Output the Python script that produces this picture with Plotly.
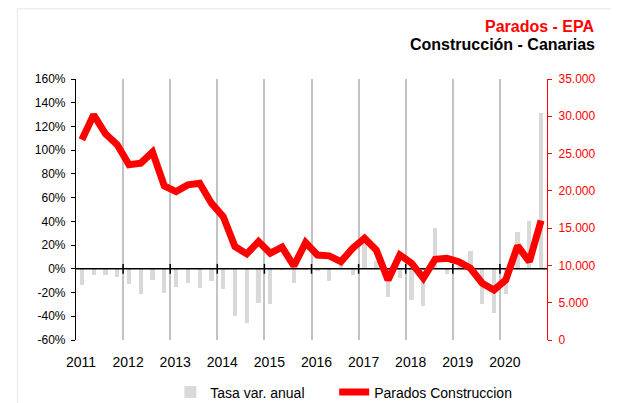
import plotly.graph_objects as go

# ---- data ----
year_labels = ["2011", "2012", "2013", "2014", "2015", "2016", "2017", "2018", "2019", "2020"]
quarters = [1, 2, 3, 4]
periods = [(int(y), q) for y in year_labels for q in quarters]

pct_tick_vals = [-60, -40, -20, 0, 20, 40, 60, 80, 100, 120, 140, 160]
pct_tick_labels = ["-60%", "-40%", "-20%", "0%", "20%", "40%", "60%", "80%",
                   "100%", "120%", "140%", "160%"]
num_tick_vals = [0, 5000, 10000, 15000, 20000, 25000, 30000, 35000]

tasa_var_anual = [-14, -5.4, -4.8, -7,
                  -12.6, -21, -9, -20.8,
                  -15.4, -11.8, -16, -10.4,
                  -16.6, -40, -45.5, -28.7,
                  -29.5, -1, -11.8, -1,
                  -2, -10.4, 5, -5.4,
                  21, 6.5, -23.6, -7.6,
                  -25.9, -31, 34.5, -4.2,
                  2, 15.4, -29.5, -37,
                  -21, 31, 40.7, 131]

parados_construccion = [26850, 30200, 27650, 26180,
                        23500, 23720, 25200, 20670,
                        19910, 20800, 21030, 18350,
                        16550, 12530, 11550, 13200,
                        11640, 12450, 9930, 13060,
                        11400, 11280, 10510, 12310,
                        13650, 12080, 8050, 11410,
                        10300, 8280, 10830, 10970,
                        10510, 9620, 7610, 6710,
                        8050, 12620, 10510, 16020]

# quarter centre on a continuous year scale
xq = [y + (q - 0.5) / 4 for (y, q) in periods]
year_vals = [int(y) for y in year_labels]
x_range = [2011, 2021]

FONT = "Arial, 'Liberation Sans', sans-serif"

# the page body adds an 8px offset; geometry below is in figure pixels
OFF = 8
W, H = 611, 395
L, R, T, B = 67.6, 72, 71.3, 62.5
pw, ph = W - L - R, H - T - B

def px_x(p):  # p = screenshot pixel
    return (p - OFF - L) / pw

def px_y(p):
    return (H - B - (p - OFF)) / ph

fig = go.Figure()
fig.add_trace(go.Bar(
    x=xq, y=tasa_var_anual, name="Tasa var. anual",
    marker=dict(color="#d9d9d9", line=dict(width=0)),
    width=0.09, yaxis="y", xaxis="x", legend="legend",
))
# 0% axis line, drawn above the bars
fig.add_trace(go.Scatter(
    x=x_range, y=[0, 0], mode="lines",
    line=dict(color="black", width=1.5),
    showlegend=False, hoverinfo="skip", yaxis="y", xaxis="x",
))
# year tick marks crossing the 0% line
fig.add_trace(go.Scatter(
    x=year_vals[1:], y=[0] * (len(year_vals) - 1), mode="markers",
    marker=dict(symbol="line-ns", size=7, line=dict(color="black", width=1.5)),
    showlegend=False, hoverinfo="skip", yaxis="y", xaxis="x",
))
fig.add_trace(go.Scatter(
    x=xq, y=parados_construccion, name="Parados Construccion",
    mode="lines", line=dict(color="#ff0000", width=7),
    yaxis="y2", xaxis="x", legend="legend2",
))

legend_common = dict(
    orientation="h", xanchor="left", yanchor="top",
    y=(H - B - 369) / ph,
    font=dict(size=14, color="black", family=FONT),
    bgcolor="rgba(0,0,0,0)",
)

fig.update_layout(
    width=W, height=H,
    margin=dict(l=L, r=R, t=T, b=B, autoexpand=False),
    paper_bgcolor="white", plot_bgcolor="white",
    separators=",.",
    font=dict(family=FONT, color="black"),
    bargap=0,
    xaxis=dict(
        range=x_range, tickvals=year_vals, ticktext=year_labels,
        showgrid=True, gridcolor="#c3c3c3", gridwidth=1.5,
        ticks="", showline=False, zeroline=False,
        tickfont=dict(size=14, color="black", family=FONT),
        ticklabelshift=5, ticklabelstandoff=12,
    ),
    yaxis=dict(
        range=[-60, 160], tickvals=pct_tick_vals, ticktext=pct_tick_labels,
        showline=True, linecolor="black", linewidth=1.2,
        ticks="outside", ticklen=4, tickcolor="black", tickwidth=1.2,
        showgrid=False, zeroline=False,
        tickfont=dict(size=12, color="black", family=FONT),
        ticklabelstandoff=3,
    ),
    yaxis2=dict(
        range=[0, 35000], tickvals=num_tick_vals, tickformat=",d",
        overlaying="y", side="right",
        showline=True, linecolor="#ff0000", linewidth=1.2,
        ticks="outside", ticklen=4, tickcolor="#ff0000", tickwidth=1.2,
        showgrid=False, zeroline=False,
        tickfont=dict(size=12, color="#ff0000", family=FONT),
        ticklabelstandoff=4,
    ),
    legend=dict(legend_common, x=(162 - L) / pw),
    legend2=dict(legend_common, x=(326 - L) / pw),
    showlegend=True,
    annotations=[
        dict(text="<b>Parados - EPA</b>", xref="paper", yref="paper",
             x=px_x(597), y=px_y(27), xanchor="right", yanchor="middle",
             showarrow=False, font=dict(size=16, color="#ff0000", family=FONT)),
        dict(text="<b>Construcción - Canarias</b>", xref="paper", yref="paper",
             x=px_x(597), y=px_y(45), xanchor="right", yanchor="middle",
             showarrow=False, font=dict(size=16, color="black", family=FONT)),
    ],
    shapes=[
        dict(type="rect", xref="paper", yref="paper",
             x0=px_x(17), x1=px_x(650), y0=px_y(430), y1=px_y(9),
             line=dict(color="#eeeeee", width=1.5), fillcolor="rgba(0,0,0,0)",
             layer="below"),
    ],
)

fig.write_html("out.html")
